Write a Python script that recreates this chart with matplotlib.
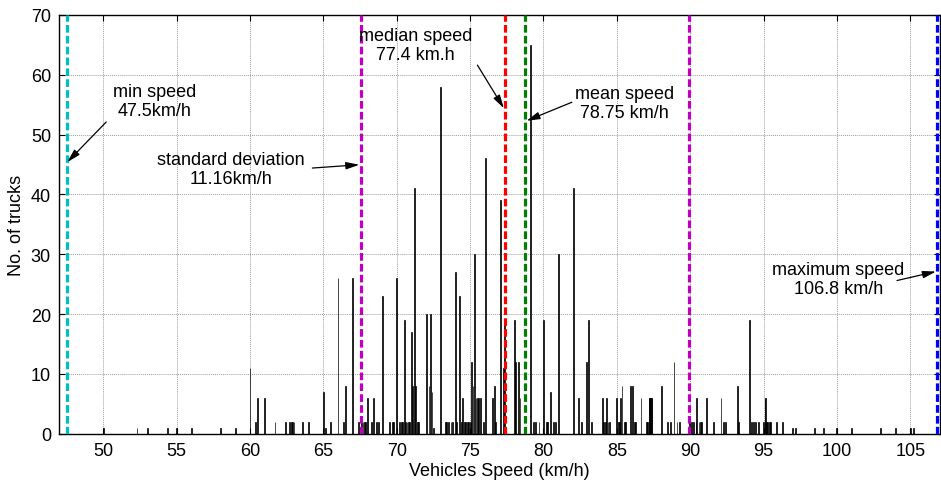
import matplotlib
matplotlib.use("Agg")
import matplotlib.pyplot as plt

# ---- data ----
speeds = [50.0, 52.3, 53.0, 54.4, 55.0, 56.0, 58.0, 59.0,
          60.0, 60.4, 60.5, 61.0, 61.7, 62.4, 62.7, 62.8, 62.9, 63.0, 63.6, 64.0,
          65.0, 65.15, 65.5, 66.0, 66.4, 66.5, 67.0, 67.4, 67.6, 67.7, 67.8, 67.9,
          68.0, 68.3, 68.4, 68.6, 68.75, 69.0, 69.5, 69.7, 69.8,
          70.0, 70.2, 70.3, 70.4, 70.5, 70.6, 70.7, 70.8, 70.9,
          71.0, 71.1, 71.2, 71.25, 71.4, 71.5,
          72.0, 72.2, 72.3, 72.4, 72.5,
          73.0, 73.3, 73.4, 73.55, 73.7, 73.8,
          74.0, 74.1, 74.3, 74.4, 74.5, 74.6, 74.7, 74.8, 74.9,
          75.0, 75.1, 75.2, 75.3, 75.4, 75.5, 75.6, 75.7, 75.9,
          76.05, 76.5, 76.65, 76.75, 77.05, 77.25, 77.35,
          78.0, 78.1, 78.3, 78.4,
          79.1, 79.3, 79.45, 79.7,
          80.0, 80.2, 80.3, 80.5, 80.7, 80.85, 81.05,
          82.05, 82.4, 82.6, 82.95, 83.1, 83.3,
          84.0, 84.1, 84.2, 84.3, 84.4, 84.5, 84.95,
          85.1, 85.2, 85.25, 85.35, 85.5, 85.6, 85.95,
          86.05, 86.2, 86.3, 86.65,
          87.0, 87.1, 87.2, 87.25, 87.3, 87.35, 87.4,
          88.05, 88.45, 88.65, 88.9, 89.1, 89.25, 89.95,
          90.1, 90.25, 90.4, 90.45, 90.6, 90.7, 90.8,
          91.1, 91.6, 92.1, 92.25, 92.4, 93.2, 93.3,
          94.05, 94.2, 94.3, 94.45, 94.65,
          95.0, 95.1, 95.15, 95.2, 95.3, 95.4, 95.5, 95.9, 96.3,
          97.0, 97.2, 98.5, 99.1, 100.0, 101.0, 103.0, 104.0, 105.0, 105.2]
counts = [1, 1, 1, 1, 1, 1, 1, 1,
          11, 2, 6, 6, 2, 2, 2, 2, 2, 2, 2, 2,
          7, 1, 2, 26, 2, 8, 26, 2, 2, 2, 2, 2,
          6, 2, 6, 2, 2, 23, 2, 2, 2,
          26, 2, 2, 2, 19, 2, 2, 2, 2,
          17, 8, 41, 8, 2, 2,
          20, 8, 20, 7, 1,
          58, 2, 2, 2, 2, 2,
          27, 2, 23, 2, 6, 2, 2, 2, 2,
          2, 12, 8, 30, 6, 6, 6, 6, 2,
          46, 6, 8, 2, 39, 11, 19,
          19, 12, 12, 6,
          65, 2, 2, 2,
          19, 2, 2, 7, 2, 2, 30,
          41, 6, 2, 12, 19, 2,
          6, 2, 2, 6, 2, 2, 6,
          2, 2, 6, 8, 2, 2, 8,
          8, 2, 2, 6,
          2, 2, 6, 6, 6, 6, 6,
          8, 2, 2, 12, 2, 2, 2,
          2, 2, 2, 6, 2, 2, 2,
          6, 2, 6, 2, 2, 8, 2,
          19, 2, 2, 2, 2,
          2, 6, 6, 2, 2, 2, 2, 2, 2,
          1, 1, 1, 1, 1, 1, 1, 1, 1, 1]

min_speed = 47.5
median_speed = 77.4
mean_speed = 78.75
std_dev = 11.16
max_speed = 106.8

xticks = [50, 55, 60, 65, 70, 75, 80, 85, 90, 95, 100, 105]
yticks = [0, 10, 20, 30, 40, 50, 60, 70]

plt.rcParams['font.family'] = ['Liberation Sans', 'DejaVu Sans']
FS = 13

fig = plt.figure(figsize=(9.41, 4.81), dpi=100)
ax = fig.add_axes([0.063, 0.0963, 0.9355, 0.8707])

ax.bar(speeds, counts, width=0.06, color='k', edgecolor='k', linewidth=0.5, zorder=2)

dash = (0, (2.4, 1.0))
lw = 2.3
ax.axvline(min_speed, color='#00BFBF', lw=lw, ls=dash, zorder=3)
ax.axvline(mean_speed - std_dev, color='#BF00BF', lw=lw, ls=dash, zorder=3)
ax.axvline(mean_speed + std_dev, color='#BF00BF', lw=lw, ls=dash, zorder=3)
ax.axvline(median_speed, color='#FF0000', lw=lw, ls=dash, zorder=3)
ax.axvline(mean_speed, color='#008000', lw=lw, ls=dash, zorder=3)
ax.axvline(max_speed, color='#0000FF', lw=lw, ls=dash, zorder=3)

ax.set_xlim(47, 107)
ax.set_ylim(0, 70)
ax.set_xticks(xticks)
ax.set_yticks(yticks)
ax.tick_params(direction='in', length=4, width=0.8, top=True, right=True,
               labelsize=FS, pad=6)
ax.grid(True, color='0.62', linestyle=(0, (1, 1)), linewidth=0.7, zorder=0)
ax.set_axisbelow(True)
for s in ax.spines.values():
    s.set_linewidth(1.0)

ax.set_xlabel('Vehicles Speed (km/h)', fontsize=FS, labelpad=2)
ax.set_ylabel('No. of trucks', fontsize=FS, labelpad=4)

ap = dict(arrowstyle='-|>,head_length=0.8,head_width=0.22', color='k', lw=0.9,
          shrinkA=0, shrinkB=0)

def note(txt, tx, ty, ax_, ay_, ax2, ay2):
    ax.text(tx, ty, txt, ha='center', va='center', fontsize=FS, linespacing=1.15, zorder=5)
    ax.annotate('', xy=(ax2, ay2), xytext=(ax_, ay_), arrowprops=ap, zorder=5)

note('min speed\n47.5km/h', 53.5, 55.6, 50.2, 52.1, 47.55, 45.4)
note('standard deviation\n11.16km/h', 58.7, 44.3, 64.25, 44.4, 67.45, 44.95)
note('median speed\n77.4 km.h', 71.3, 64.9, 75.5, 61.6, 77.3, 54.4)
note('mean speed\n78.75 km/h', 85.5, 55.3, 81.94, 55.4, 78.85, 52.3)
note('maximum speed\n106.8 km/h', 100.1, 25.9, 104.1, 25.6, 106.75, 27.1)

fig.savefig('out.png', dpi=100)
